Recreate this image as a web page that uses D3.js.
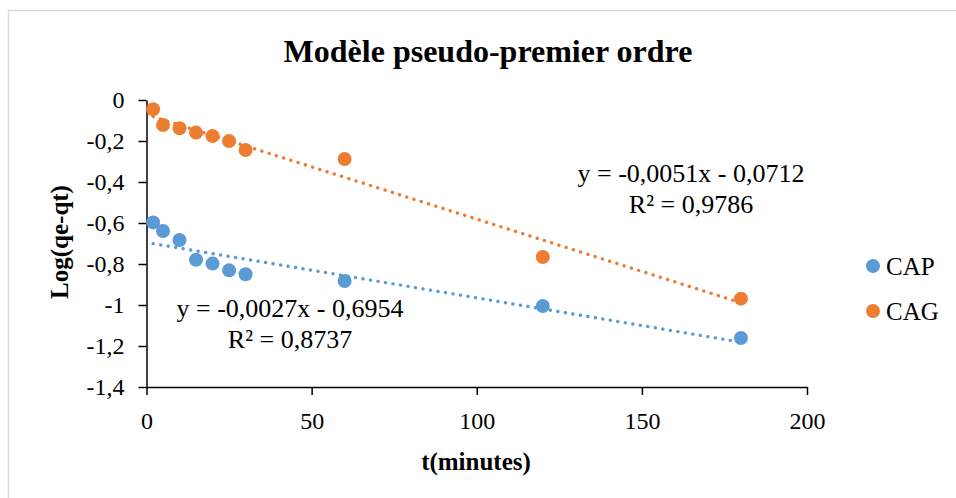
<!DOCTYPE html>
<html>
<head>
<meta charset="utf-8">
<script src="https://cdn.jsdelivr.net/npm/d3@7"></script>
<style>
  html, body { margin: 0; padding: 0; background: #ffffff; }
  svg { display: block; }
  svg text { font-family: "Liberation Serif", "Times New Roman", serif; fill: #000; }
</style>
</head>
<body>
<svg id="chart" width="956" height="498" font-family="Liberation Serif, Times New Roman, serif"></svg>
<script>
// Sampling times (minutes)
const tMinutes = [2, 5, 10, 15, 20, 25, 30, 60, 120, 180];
// Log(qe - qt) for each adsorbent
const capLog = [-0.597, -0.639, -0.683, -0.779, -0.798, -0.831, -0.850, -0.883, -1.005, -1.161];
const cagLog = [-0.045, -0.122, -0.138, -0.159, -0.176, -0.200, -0.244, -0.288, -0.766, -0.969];

const seriesNames = ["CAP", "CAG"];
const seriesColors = ["#5B9BD5", "#ED7D31"];

// Linear trendline coefficients and fit quality
const trendSlopes = [-0.0027, -0.0051];
const trendIntercepts = [-0.6954, -0.0712];
const trendR2 = [0.8737, 0.9786];

// Axis ticks
const xTicks = [0, 50, 100, 150, 200];
const yTicks = [0, -0.2, -0.4, -0.6, -0.8, -1, -1.2, -1.4];

const serif = "Liberation Serif, Times New Roman, serif";
const svg = d3.select("#chart");
const frLocale = d3.formatLocale({ decimal: ",", thousands: " ", grouping: [3], currency: ["", " €"], minus: "-" });
const fmtTick = frLocale.format("~g");
const fmtCoef = frLocale.format(".4f");

// Chart area frame
svg.append("rect")
  .attr("x", 8.5).attr("y", 10.5)
  .attr("width", 1000).attr("height", 600)
  .attr("fill", "#fff").attr("stroke", "#d9d9d9").attr("stroke-width", 1.5);

const x = d3.scaleLinear().domain([0, 200]).range([146.5, 807]);
const y = d3.scaleLinear().domain([-1.4, 0]).range([387, 100]);

// Title
svg.append("text")
  .attr("x", 488).attr("y", 62)
  .attr("text-anchor", "middle")
  .attr("font-family", serif)
  .style("font-size", "32px").style("font-weight", "bold")
  .text("Modèle pseudo-premier ordre");

// Axes
const yAxis = svg.append("g")
  .attr("transform", `translate(${x(0)},0)`)
  .call(d3.axisLeft(y).tickValues(yTicks).tickFormat(fmtTick).tickSize(8).tickSizeOuter(0).tickPadding(14));
const xAxis = svg.append("g")
  .attr("transform", `translate(0,${y(-1.4)})`)
  .call(d3.axisBottom(x).tickValues(xTicks).tickFormat(fmtTick).tickSize(8).tickSizeOuter(0).tickPadding(17));

[xAxis, yAxis].forEach(g => {
  g.attr("font-family", serif).attr("font-size", 24);
  g.select(".domain").attr("stroke", "#000").attr("stroke-width", 1.5);
  g.selectAll(".tick line").attr("stroke", "#000").attr("stroke-width", 1.5);
  g.selectAll(".tick text").attr("fill", "#000");
});

// Axis titles
svg.append("text")
  .attr("x", 476).attr("y", 470)
  .attr("text-anchor", "middle")
  .attr("font-family", serif)
  .style("font-size", "25px").style("font-weight", "bold")
  .text("t(minutes)");
svg.append("text")
  .attr("transform", "translate(68,242) rotate(-90)")
  .attr("text-anchor", "middle")
  .attr("font-family", serif)
  .style("font-size", "25px").style("font-weight", "bold")
  .text("Log(qe-qt)");

// Data markers
const seriesValues = [capLog, cagLog];
seriesValues.forEach((vals, si) => {
  svg.append("g").selectAll("circle")
    .data(tMinutes.map((t, i) => [t, vals[i]]))
    .join("circle")
    .attr("cx", d => x(d[0]))
    .attr("cy", d => y(d[1]))
    .attr("r", 7)
    .attr("fill", seriesColors[si]);
});

// Dotted linear trendlines over the sampled time range
const tRange = d3.extent(tMinutes);
seriesNames.forEach((name, si) => {
  const f = t => trendSlopes[si] * t + trendIntercepts[si];
  svg.append("line")
    .attr("x1", x(tRange[0])).attr("y1", y(f(tRange[0])))
    .attr("x2", x(tRange[1])).attr("y2", y(f(tRange[1])))
    .attr("stroke", seriesColors[si])
    .attr("stroke-width", 3.4)
    .attr("stroke-linecap", "round")
    .attr("stroke-dasharray", "0.1 7.5");
});

// Trendline equations
const labelPos = [[290, 317], [691, 182]];
seriesNames.forEach((name, si) => {
  const [lx, ly] = labelPos[si];
  const eq = `y = ${fmtCoef(trendSlopes[si])}x - ${fmtCoef(Math.abs(trendIntercepts[si]))}`;
  const g = svg.append("g").attr("font-family", serif).style("font-size", "26px").attr("text-anchor", "middle");
  g.append("text").attr("x", lx).attr("y", ly).text(eq);
  g.append("text").attr("x", lx).attr("y", ly + 31).text(`R² = ${fmtCoef(trendR2[si])}`);
});

// Legend
const legend = svg.append("g").attr("font-family", serif);
seriesNames.forEach((name, si) => {
  const ly = 266 + si * 45;
  legend.append("circle").attr("cx", 873).attr("cy", ly).attr("r", 7).attr("fill", seriesColors[si]);
  legend.append("text").attr("x", 886).attr("y", ly + 9)
    .style("font-size", "25px").text(name);
});
</script>
</body>
</html>
